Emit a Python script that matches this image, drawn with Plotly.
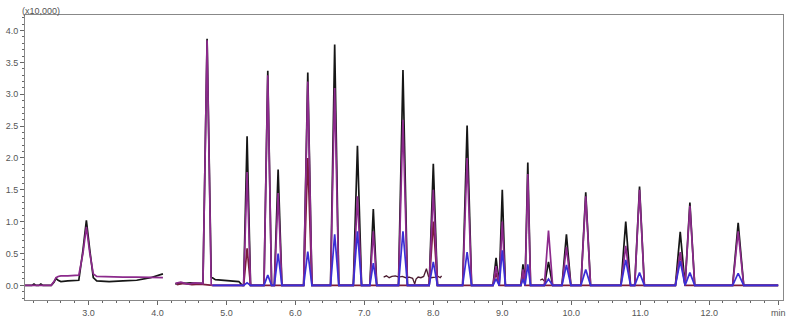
import numpy as np
import plotly.graph_objects as go

# ---------------- data ----------------
# segment 1 (2.08 - 4.10 min): black and purple channels
seg1_time   = [2.08, 2.18, 2.21, 2.24, 2.28, 2.31, 2.34, 2.46, 2.50, 2.53, 2.56, 2.60, 2.70, 2.86, 2.92, 2.97, 3.02, 3.07, 3.12, 3.30, 3.50, 3.70, 3.90, 4.08]
seg1_black  = [0.00, 0.00, 0.02, 0.00, 0.00, 0.02, 0.00, 0.00, 0.05, 0.11, 0.08, 0.06, 0.07, 0.08, 0.55, 1.02, 0.55, 0.12, 0.07, 0.06, 0.07, 0.08, 0.12, 0.18]
seg1_purple = [0.00, 0.00, 0.01, 0.00, 0.00, 0.01, 0.00, 0.00, 0.06, 0.12, 0.14, 0.15, 0.15, 0.16, 0.50, 0.92, 0.50, 0.18, 0.14, 0.13, 0.13, 0.13, 0.12, 0.12]

# segment 2 peaks (retention time, min) and heights (x10,000) per channel
peak_time   = [4.72, 5.30, 5.60, 5.75, 6.18, 6.57, 6.90, 7.13, 7.56, 8.00, 8.49, 8.91, 9.00, 9.30, 9.37, 9.67, 9.93, 10.21, 10.79, 10.99, 11.58, 11.72, 12.42]
peak_hw     = [0.060, 0.050, 0.055, 0.055, 0.060, 0.060, 0.060, 0.050, 0.065, 0.060, 0.065, 0.045, 0.045, 0.030, 0.040, 0.060, 0.065, 0.070, 0.070, 0.070, 0.070, 0.070, 0.080]
black_h     = [3.87, 2.34, 3.37, 1.82, 3.34, 3.78, 2.19, 1.20, 3.38, 1.91, 2.51, 0.43, 1.50, 0.33, 1.93, 0.37, 0.80, 1.46, 1.00, 1.55, 0.84, 1.30, 0.98]
purple_h    = [3.85, 1.78, 3.30, 1.45, 3.20, 3.10, 1.40, 0.85, 2.60, 1.50, 2.00, 0.30, 1.00, 0.25, 1.75, 0.86, 0.60, 1.40, 0.62, 1.50, 0.52, 1.25, 0.85]
maroon_h    = [0.00, 0.58, 0.00, 0.00, 2.00, 0.00, 0.00, 0.00, 0.00, 1.00, 0.00, 0.20, 0.00, 0.20, 0.00, 0.00, 0.00, 0.00, 0.00, 0.00, 0.50, 0.00, 0.00]
blue_h      = [0.00, 0.04, 0.16, 0.50, 0.53, 0.80, 0.85, 0.35, 0.85, 0.37, 0.52, 0.10, 0.55, 0.10, 0.33, 0.10, 0.32, 0.25, 0.40, 0.20, 0.38, 0.20, 0.19]

# segment 2 baselines per channel
black_bl_t  = [4.26, 4.32, 4.40, 4.48, 4.56, 4.64, 4.67, 4.78, 4.84, 4.95, 5.08, 5.18, 5.23, 13.0]
black_bl_y  = [0.02, 0.04, 0.03, 0.04, 0.03, 0.04, 0.03, 0.13, 0.09, 0.08, 0.07, 0.06, 0.00, 0.00]
purple_bl_t = [4.26, 4.34, 4.44, 4.54, 4.64, 4.80, 13.0]
purple_bl_y = [0.03, 0.05, 0.02, 0.04, 0.03, 0.00, 0.00]
maroon_bl_t = [4.28, 4.38, 4.50, 4.62, 4.80, 13.0]
maroon_bl_y = [0.01, 0.03, 0.01, 0.02, 0.00, 0.00]
blue_bl_t   = [4.80, 13.0]
blue_bl_y   = [0.00, 0.00]

# noisy sections
noise_time  = [7.28, 7.32, 7.36, 7.40, 7.45, 7.50, 7.55, 7.60, 7.65, 7.70, 7.73, 7.75, 7.78, 7.82, 7.86, 7.90, 7.93, 7.96, 8.03, 8.07, 8.10, 8.12, None, 9.55, 9.58, 9.61, 9.64]
noise_val   = [0.13, 0.15, 0.12, 0.14, 0.15, 0.13, 0.14, 0.12, 0.13, 0.11, 0.02, 0.10, 0.13, 0.12, 0.14, 0.26, 0.14, 0.12, 0.13, 0.14, 0.12, 0.15, None, 0.08, 0.10, 0.07, 0.09]

x_tick_vals = [3, 4, 5, 6, 7, 8, 9, 10, 11, 12, 13]
x_tick_text = ["3.0", "4.0", "5.0", "6.0", "7.0", "8.0", "9.0", "10.0", "11.0", "12.0", "min"]


def channel(bl_t, bl_y, heights):
    pts = []
    windows = []
    for t, hw, h in zip(peak_time, peak_hw, heights):
        if h <= 0:
            continue
        lo, hi = t - hw, t + hw
        windows.append((lo, hi))
        pts.append((lo, float(np.interp(lo, bl_t, bl_y))))
        pts.append((t, h))
        pts.append((hi, float(np.interp(hi, bl_t, bl_y))))
    for t, y in zip(bl_t, bl_y):
        if not any(lo < t < hi for lo, hi in windows):
            pts.append((t, y))
    pts.sort(key=lambda p: p[0])
    return [p[0] for p in pts], [p[1] for p in pts]


C_BLACK = "#161616"
C_PURPLE = "#8c2a8c"
C_MAROON = "#7a1c3c"
C_BLUE = "#3a2ed6"
LW = 1.7

fig = go.Figure()

bx, by = channel(black_bl_t, black_bl_y, black_h)
fig.add_trace(go.Scatter(x=seg1_time + [None] + bx, y=seg1_black + [None] + by,
                         mode="lines", line=dict(color=C_BLACK, width=LW), name="TIC"))
fig.add_trace(go.Scatter(x=noise_time, y=noise_val, mode="lines",
                         line=dict(color="#4a1a2e", width=1.3), name="noise"))
mx, my = channel(maroon_bl_t, maroon_bl_y, maroon_h)
fig.add_trace(go.Scatter(x=mx, y=my, mode="lines", line=dict(color=C_MAROON, width=LW), name="m2"))
px, py = channel(purple_bl_t, purple_bl_y, purple_h)
fig.add_trace(go.Scatter(x=seg1_time + [None] + px, y=seg1_purple + [None] + py,
                         mode="lines", line=dict(color=C_PURPLE, width=LW), name="m1"))
ux, uy = channel(blue_bl_t, blue_bl_y, blue_h)
fig.add_trace(go.Scatter(x=ux, y=uy, mode="lines", line=dict(color=C_BLUE, width=LW), name="m3"))

tick_font = dict(family="Liberation Sans, Arial, sans-serif", size=9, color="#555555")

fig.update_layout(
    width=800, height=324,
    margin=dict(l=25, r=17, t=15, b=24),
    paper_bgcolor="white", plot_bgcolor="white",
    showlegend=False,
    xaxis=dict(range=[2.08, 13.07], tickvals=x_tick_vals, ticktext=x_tick_text,
               automargin=False,
               ticks="outside", ticklen=4, tickcolor="#666", tickwidth=1,
               minor=dict(dtick=0.2, tick0=0, ticks="outside", ticklen=2, tickcolor="#666"),
               showline=True, linecolor="#888", linewidth=1, mirror=True,
               showgrid=False, zeroline=False, tickfont=tick_font),
    yaxis=dict(range=[-0.23, 4.245], tickvals=[0, 0.5, 1, 1.5, 2, 2.5, 3, 3.5, 4],
               tickformat=".1f", automargin=False,
               ticks="outside", ticklen=4, tickcolor="#666", tickwidth=1,
               minor=dict(dtick=0.1, tick0=0, ticks="outside", ticklen=2, tickcolor="#666"),
               showline=True, linecolor="#888", linewidth=1, mirror=True,
               showgrid=False, zeroline=False, tickfont=tick_font),
    annotations=[dict(text="(x10,000)", xref="paper", yref="paper", x=0, y=1,
                      xanchor="left", yanchor="bottom", xshift=-5, yshift=-3,
                      showarrow=False, font=tick_font)],
)

# remove the default 8px page margin so the figure sits at the window's top-left corner
fig.write_html("out.html", config={"displayModeBar": False},
               post_script="document.body.style.margin='0';document.body.style.padding='0';")
